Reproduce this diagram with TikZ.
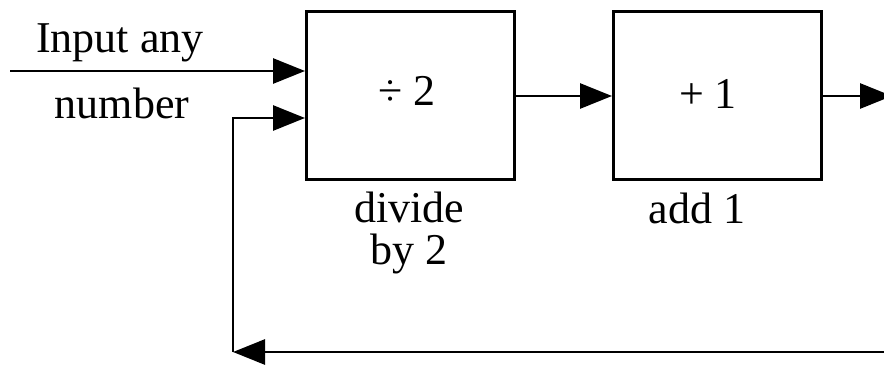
\documentclass[tikz,border=0pt]{standalone}
\usepackage{fontspec}
\setmainfont{Liberation Serif}
\usetikzlibrary{arrows.meta}
\begin{document}
\begin{tikzpicture}[x=1pt,y=-1pt,
  line width=2.8pt,
  box/.style={draw,minimum width=208pt,minimum height=168pt,inner sep=0pt,anchor=north west,line width=2.8pt},
  lbl/.style={font=\fontsize{44}{44}\selectfont,inner sep=0pt,anchor=base},
  arr/.style={-{Triangle[length=32pt,width=25pt]}}]
\useasboundingbox (0,0) rectangle (884,365);
\node[box] (b1) at (305,10) {};
\node[box] (b2) at (612,10) {};
\node[lbl] (t1) at (407,105) {÷ 2};
\node[lbl] (t2) at (708,108) {+ 1};
\node[lbl] (l1) at (120,52) {Input any};
\node[lbl] (l2) at (122,118) {number};
\node[lbl] (d1) at (409,222) {divide};
\node[lbl] (d2) at (409,264) {by 2};
\node[lbl] (a1) at (697,223) {add 1};
\coordinate (in) at (10,71);
\coordinate (out) at (892,96);
\coordinate (br) at (884,352);
\coordinate (bl) at (233,352);
\coordinate (fb) at (233,118);
\draw[arr] (in) -- (in -| b1.west);
\draw[arr] (b1.east |- 0,96) -- (b2.west |- 0,96);
\draw[arr] (b2.east |- 0,96) -- (out);
\draw[arr] (br) -- (bl);
\draw[arr] (bl) -- (fb) -- (fb -| b1.west);
\end{tikzpicture}
\end{document}
